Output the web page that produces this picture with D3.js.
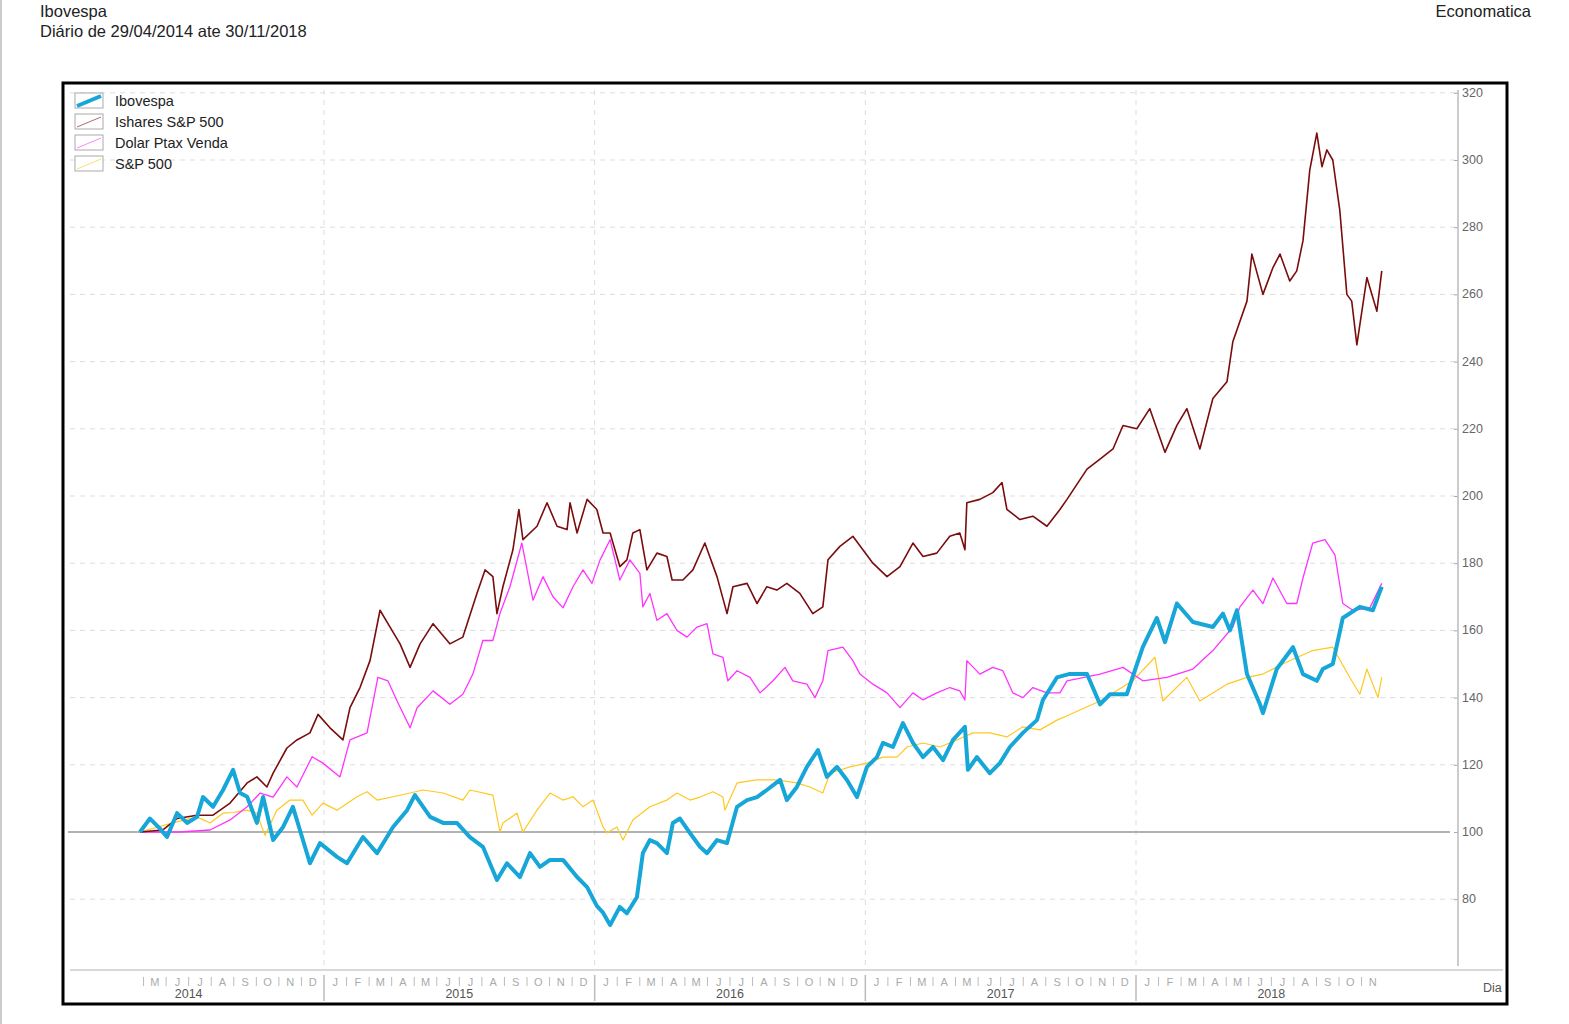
<!DOCTYPE html>
<html><head><meta charset="utf-8">
<script src="https://cdn.jsdelivr.net/npm/d3@7"></script>
<style>body{margin:0;background:#fff;font-family:"Liberation Sans",Arial,sans-serif}</style>
</head><body><svg id="c" width="1569" height="1024"></svg>
<script>
// time in fractional years
const iboT=[2014.320,2014.357,2014.394,2014.420,2014.457,2014.494,2014.531,2014.553,2014.590,2014.627,2014.664,2014.690,2014.716,2014.752,2014.775,2014.812,2014.849,2014.885,2014.911,2014.948,2014.985,2015.048,2015.085,2015.144,2015.196,2015.255,2015.307,2015.336,2015.392,2015.440,2015.491,2015.539,2015.587,2015.639,2015.676,2015.724,2015.761,2015.798,2015.835,2015.883,2015.935,2015.972,2016.008,2016.031,2016.057,2016.093,2016.119,2016.156,2016.178,2016.204,2016.230,2016.267,2016.289,2016.315,2016.352,2016.389,2016.415,2016.452,2016.489,2016.526,2016.563,2016.600,2016.636,2016.685,2016.710,2016.747,2016.784,2016.825,2016.858,2016.895,2016.932,2016.969,2017.006,2017.043,2017.065,2017.102,2017.139,2017.176,2017.213,2017.250,2017.287,2017.324,2017.368,2017.379,2017.412,2017.460,2017.497,2017.534,2017.582,2017.634,2017.656,2017.708,2017.752,2017.819,2017.867,2017.904,2017.966,2018.025,2018.077,2018.107,2018.151,2018.210,2018.284,2018.321,2018.347,2018.373,2018.410,2018.458,2018.469,2018.520,2018.580,2018.617,2018.668,2018.690,2018.727,2018.764,2018.827,2018.875,2018.908];
const iboV=[100,104,101,98.5,105.6,102.7,104.5,110.4,107.5,112.5,118.5,111.6,110.5,102.7,110.4,97.6,101.5,107.5,100.6,90.7,96.7,92.6,90.7,98.5,93.7,101.5,106.5,111,104.5,102.7,102.7,98.5,95.6,85.7,90.7,86.6,93.7,89.6,91.7,91.7,86.6,83.6,78,76,72.3,77.7,75.8,80.6,93.7,97.6,96.7,93.7,102.7,104,99.7,95.6,93.7,97.6,96.7,107.5,109.5,110.4,112.5,115.5,109.5,113.4,119.4,124.4,116.4,119.4,115.5,110.4,119.4,122.3,126.5,125.3,132.4,126.5,122.3,125.3,121.4,127.4,131.3,118.5,122.3,117.5,120.5,125.3,129.5,133.3,139.3,146,147,147,138,141,141,155,163.7,156.5,168,162.5,161,165,160,166,147,138,135.4,148.5,155,147,145,148.5,150,163.7,167,166,173];

const ishT=[2014.320,2014.405,2014.457,2014.531,2014.590,2014.653,2014.716,2014.752,2014.789,2014.812,2014.863,2014.900,2014.948,2014.978,2015.022,2015.070,2015.096,2015.133,2015.170,2015.207,2015.244,2015.281,2015.318,2015.355,2015.403,2015.465,2015.513,2015.565,2015.595,2015.624,2015.639,2015.661,2015.698,2015.720,2015.735,2015.787,2015.824,2015.861,2015.898,2015.909,2015.935,2015.972,2016.008,2016.031,2016.057,2016.093,2016.119,2016.141,2016.167,2016.193,2016.230,2016.267,2016.286,2016.326,2016.363,2016.407,2016.452,2016.489,2016.511,2016.563,2016.600,2016.636,2016.673,2016.710,2016.758,2016.806,2016.843,2016.862,2016.906,2016.954,2016.991,2017.028,2017.080,2017.128,2017.176,2017.213,2017.264,2017.312,2017.349,2017.368,2017.375,2017.423,2017.471,2017.505,2017.523,2017.571,2017.619,2017.671,2017.719,2017.745,2017.819,2017.867,2017.915,2017.952,2018.003,2018.051,2018.107,2018.151,2018.188,2018.236,2018.284,2018.336,2018.358,2018.410,2018.428,2018.469,2018.506,2018.532,2018.568,2018.594,2018.617,2018.642,2018.668,2018.687,2018.705,2018.727,2018.753,2018.779,2018.797,2018.816,2018.853,2018.890,2018.908];
const ishV=[100,100.6,104,105,105,108.6,114.6,116.4,113.4,117.5,125,127.4,129.5,135,131,127.4,137,143,151,166,161,156,149,156,162,156,158,171,178,176,165,173,184,196,187,191,198,191,190,198,189,199,196,189,189,179,181,189,190,178,183,182,175,175,178,186,176,165,173,174,168,173,172,174,171,165,167,181,185,188,184,180,176,179,186,182,183,188,189,184,198,199,201,204,196,193,194,191,196,199,208,211,214,221,220,226,213,221,226,214,229,234,246,258,272,260,268,272,264,267,276,297,308,298,303,300,285,260,258,245,265,255,267];

const dolT=[2014.320,2014.468,2014.579,2014.653,2014.716,2014.764,2014.812,2014.863,2014.900,2014.956,2014.996,2015.059,2015.096,2015.159,2015.199,2015.236,2015.270,2015.318,2015.344,2015.403,2015.465,2015.513,2015.550,2015.587,2015.624,2015.650,2015.687,2015.731,2015.772,2015.809,2015.846,2015.883,2015.920,2015.957,2015.990,2016.020,2016.057,2016.093,2016.130,2016.167,2016.178,2016.204,2016.230,2016.267,2016.304,2016.341,2016.378,2016.415,2016.437,2016.474,2016.492,2016.526,2016.574,2016.611,2016.659,2016.703,2016.732,2016.784,2016.814,2016.843,2016.862,2016.917,2016.954,2016.980,2017.028,2017.080,2017.128,2017.176,2017.213,2017.264,2017.312,2017.349,2017.368,2017.375,2017.423,2017.471,2017.508,2017.545,2017.582,2017.619,2017.671,2017.719,2017.745,2017.867,2017.952,2018.025,2018.114,2018.210,2018.284,2018.358,2018.384,2018.432,2018.469,2018.506,2018.557,2018.594,2018.617,2018.653,2018.698,2018.735,2018.764,2018.801,2018.864,2018.908];
const dolV=[100,100,100.6,103.6,107.5,111.6,110.4,116.4,113.4,122.4,120.5,116.4,127.4,129.5,146,145,139,131,137,142,138,141,147,157,157,165,173,186,169,176,170,166.7,173,178,174,181,187,175,181,177,167,171,163,165,160,158,161,162,153,152,145,148,146,141.4,145,149,145,144,140,145,154,155,151,147,144,141.4,137,141.4,139.3,141.4,143,142,139.3,151,147,149,148,141.4,140,143,141.4,141.4,145,147,149,145,146,148.5,154,161,167,172,168,175.6,168,168,175.6,186,187,182.5,168,166,166.7,174];

const spT=[2014.320,2014.442,2014.531,2014.579,2014.627,2014.664,2014.716,2014.752,2014.782,2014.826,2014.874,2014.922,2014.956,2014.996,2015.048,2015.122,2015.159,2015.196,2015.255,2015.318,2015.366,2015.440,2015.513,2015.539,2015.624,2015.650,2015.661,2015.713,2015.735,2015.787,2015.835,2015.883,2015.920,2015.957,2015.994,2016.031,2016.045,2016.082,2016.105,2016.141,2016.204,2016.267,2016.304,2016.352,2016.389,2016.437,2016.474,2016.481,2016.526,2016.600,2016.673,2016.747,2016.795,2016.843,2016.869,2016.943,2017.006,2017.065,2017.117,2017.154,2017.213,2017.276,2017.338,2017.397,2017.460,2017.523,2017.582,2017.645,2017.708,2017.752,2017.867,2017.988,2018.070,2018.099,2018.188,2018.236,2018.336,2018.410,2018.469,2018.557,2018.653,2018.727,2018.790,2018.827,2018.853,2018.894,2018.908];
const spV=[100,102.7,104.5,102.7,105.6,105.8,106.5,105.6,99,106.5,109.5,109.5,105,108.6,106.5,110.5,112,109.5,110.5,111.6,112.5,111.6,109.5,112.5,111,100,102.7,105.6,100,106.5,111.6,109.5,110.5,107.5,109.5,101.5,99.7,101.5,97.6,103.6,107.5,109.5,111.6,109.5,110.4,112,110.4,106.5,114.6,115.5,115.5,114.6,113.4,111.6,117.5,119.4,120.5,122.3,122.3,125.3,126.5,125.3,127.4,129.5,129.5,128.3,131.3,130.4,133.3,134.8,139,145,152,139,146,139,144,146,147,150.6,154,155,146,141,148.5,140,146];

const seriesNames=["Ibovespa","Ishares S&P 500","Dolar Ptax Venda","S&P 500"];
const seriesColors=["#16a6d8","#7a0c0c","#ff33ff","#ffc820"];
const yTicks=[80,100,120,140,160,180,200,220,240,260,280,300,320];
const monthLetters=["J","F","M","A","M","J","J","A","S","O","N","D"];
const years=[2014,2015,2016,2017,2018];

const svg=d3.select("#c");
const x=d3.scaleLinear().domain([2015,2018]).range([324,1136]);
const y=d3.scaleLinear().domain([100,300]).range([832,160]);

// header
svg.append("line").attr("x1",1).attr("x2",1).attr("y1",0).attr("y2",1024).attr("stroke","#999");
svg.append("text").attr("x",40).attr("y",17).attr("font-size",16.5).attr("fill","#222").text("Ibovespa");
svg.append("text").attr("x",40).attr("y",37).attr("font-size",16.5).attr("fill","#222").text("Diário de 29/04/2014 ate 30/11/2018");
svg.append("text").attr("x",1531).attr("y",17).attr("font-size",16.5).attr("text-anchor","end").attr("fill","#222").text("Economatica");

// frame
svg.append("rect").attr("x",63).attr("y",83).attr("width",1444).attr("height",921).attr("fill","none").attr("stroke","#000").attr("stroke-width",3);

// grid
yTicks.forEach(v=>{ if(v===100) return;
  svg.append("line").attr("x1",70).attr("x2",1455).attr("y1",y(v)).attr("y2",y(v)).attr("stroke","#ddd").attr("stroke-dasharray","5,5");});
[2015,2016,2017,2018].forEach(t=>svg.append("line").attr("x1",x(t)).attr("x2",x(t)).attr("y1",90).attr("y2",965).attr("stroke","#ddd").attr("stroke-dasharray","5,5"));
svg.append("line").attr("x1",68).attr("x2",1450).attr("y1",y(100)).attr("y2",y(100)).attr("stroke","#999").attr("stroke-width",1.5);

// right axis
const yg=svg.append("g").attr("transform","translate(1458,0)").call(d3.axisLeft(y).tickValues(yTicks).tickSize(4).tickFormat(""));
yg.select(".domain").remove();
yg.selectAll("line").attr("stroke","#aaa");
yTicks.forEach(v=>svg.append("text").attr("x",1462).attr("y",y(v)+4).attr("font-size",12.5).attr("fill","#666").text(v));
svg.append("line").attr("x1",1458).attr("x2",1458).attr("y1",90).attr("y2",966).attr("stroke","#bbb").attr("stroke-width",1.5);

// bottom axis
svg.append("line").attr("x1",70).attr("x2",1503).attr("y1",970).attr("y2",970).attr("stroke","#ccc").attr("stroke-width",1.5);
for(let yr=2014;yr<=2018;yr++){
  for(let m=0;m<12;m++){
    if(yr===2014&&m<4) continue;
    if(yr===2018&&m>10) continue;
    const t0=yr+m/12, tm=yr+(m+0.5)/12;
    if(m>0||yr===2014){
      svg.append("line").attr("x1",x(t0)).attr("x2",x(t0)).attr("y1",977).attr("y2",986).attr("stroke","#bbb");
    }
    svg.append("text").attr("x",x(tm)).attr("y",986).attr("font-size",11).attr("text-anchor","middle").attr("fill","#aaa").text(monthLetters[m]);
  }
}
[2015,2016,2017,2018].forEach(t=>svg.append("line").attr("x1",x(t)).attr("x2",x(t)).attr("y1",975).attr("y2",1001).attr("stroke","#bbb").attr("stroke-width",1.5));
years.forEach(yr=>svg.append("text").attr("x",x(yr+0.5)).attr("y",998).attr("font-size",12.5).attr("text-anchor","middle").attr("fill","#555").text(yr));
svg.append("text").attr("x",1483).attr("y",992).attr("font-size",12.5).attr("fill","#555").text("Dia");

// lines
const data=[[iboT,iboV],[ishT,ishV],[dolT,dolV],[spT,spV]];
const widths=[4,1.6,1.3,1.2];
const line=d3.line().x(d=>x(d[0])).y(d=>y(d[1]));
[3,2,1,0].forEach(i=>{
  const pts=data[i][0].map((t,j)=>[t,data[i][1][j]]);
  svg.append("path").datum(pts).attr("d",line).attr("fill","none").attr("stroke",seriesColors[i]).attr("stroke-width",widths[i]).attr("stroke-linejoin","round");
});

// legend
seriesNames.forEach((n,i)=>{
  const gy=93+i*21;
  svg.append("rect").attr("x",75).attr("y",gy).attr("width",28).attr("height",15).attr("fill","#fff").attr("stroke","#aaa");
  svg.append("line").attr("x1",77).attr("x2",101).attr("y1",gy+13).attr("y2",gy+3).attr("stroke",seriesColors[i]).attr("stroke-width",i===0?4:1).attr("opacity",i===0?1:0.6);
  svg.append("text").attr("x",115).attr("y",gy+13).attr("font-size",14.5).attr("fill","#222").text(n);
});
</script></body></html>
